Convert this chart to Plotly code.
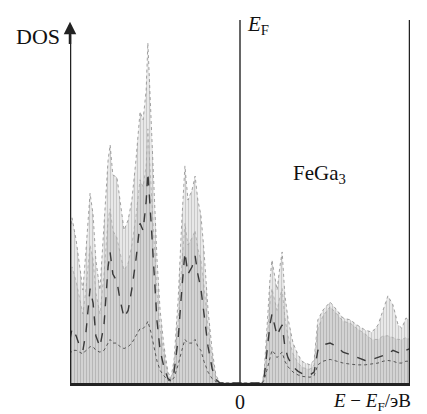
import plotly.graph_objects as go

# Energy grid (E - E_F, eV-like units)
energy = [-5.0,-4.94,-4.82,-4.71,-4.62,-4.53,-4.41,-4.32,-4.24,-4.12,
          -4.0,-3.88,-3.82,-3.74,-3.62,-3.53,-3.41,-3.29,-3.18,-3.06,
          -2.94,-2.85,-2.76,-2.71,-2.62,-2.53,-2.44,-2.35,-2.24,-2.12,
          -2.03,-1.94,-1.82,-1.71,-1.62,-1.53,-1.41,-1.32,-1.24,-1.15,
          -1.06,-0.94,-0.82,-0.71,-0.59,
          0.65,0.71,0.79,0.88,0.94,1.03,1.09,1.18,1.24,1.32,
          1.41,1.56,1.71,1.85,2.06,2.18,2.29,2.44,2.65,2.85,
          3.03,3.24,3.44,3.68,3.88,4.06,4.21,4.35,4.50,4.65,
          4.76,4.88,5.0]

dos_total = [4.21,4.55,3.94,3.11,2.56,3.66,5.23,4.63,3.39,2.56,
             4.21,6.14,6.56,5.73,5.67,5.04,4.21,4.49,5.04,6.14,
             7.47,7.25,8.07,9.37,7.52,5.59,3.39,2.01,1.05,0.30,
             0.14,0.63,2.29,4.49,5.98,5.04,5.32,5.70,5.04,4.63,
             3.66,2.01,0.91,0.22,0.0,
             0.0,0.30,1.46,2.84,3.39,2.84,2.56,3.25,3.61,2.42,
             1.79,1.10,0.77,0.58,0.50,0.63,1.74,2.01,2.23,2.01,
             1.79,1.74,1.60,1.46,1.40,1.60,2.01,2.40,2.15,1.60,
             1.51,1.79,1.74]

dos_ga = [3.0,3.2,2.8,2.3,1.9,2.6,3.8,3.4,2.5,1.9,
          3.0,4.5,4.8,4.2,4.0,3.6,3.1,3.3,3.8,4.6,
          5.6,5.4,6.0,7.0,5.6,4.1,2.5,1.5,0.8,0.22,
          0.1,0.45,1.7,3.3,4.4,3.8,4.0,4.2,3.7,3.4,
          2.7,1.5,0.65,0.15,0.0,
          0.0,0.22,1.1,2.2,2.6,2.2,2.0,2.4,2.6,1.8,
          1.3,0.8,0.55,0.42,0.38,0.5,1.5,1.85,2.1,1.9,
          1.7,1.65,1.5,1.35,1.2,1.2,1.3,1.3,1.25,1.2,
          1.2,1.25,1.2]

dos_fe = [1.2,1.5,1.3,1.0,0.9,1.4,2.6,2.2,1.3,1.0,
          1.6,3.2,3.6,3.0,2.8,2.3,1.8,2.0,2.6,3.4,
          4.4,4.2,5.0,5.8,4.5,3.0,1.7,0.9,0.45,0.12,
          0.06,0.3,1.2,2.6,3.6,3.0,3.2,3.5,3.0,2.6,
          1.9,1.0,0.4,0.1,0.0,
          0.0,0.15,0.8,1.6,1.9,1.5,1.3,1.5,1.6,1.0,
          0.7,0.45,0.32,0.25,0.22,0.3,0.9,1.05,1.1,1.0,
          0.85,0.78,0.7,0.62,0.65,0.7,0.75,0.8,0.9,0.85,
          0.8,0.9,0.95]

dos_s = [0.8,0.9,0.9,0.85,0.8,0.9,1.0,1.0,0.9,0.85,
         0.9,1.1,1.2,1.1,1.1,1.0,0.95,1.0,1.1,1.3,
         1.5,1.5,1.6,1.7,1.4,1.0,0.6,0.35,0.2,0.08,
         0.05,0.15,0.5,0.9,1.2,1.1,1.1,1.2,1.0,0.9,
         0.6,0.3,0.12,0.04,0.0,
         0.0,0.08,0.35,0.7,0.9,0.8,0.7,0.8,0.85,0.6,
         0.45,0.3,0.22,0.18,0.16,0.2,0.5,0.6,0.65,0.6,
         0.55,0.52,0.5,0.5,0.52,0.55,0.6,0.62,0.6,0.55,
         0.55,0.6,0.6]

fig = go.Figure()
fig.add_trace(go.Scatter(
    x=energy, y=dos_total, mode="lines", fill="tozeroy",
    line=dict(color="#8c8c8c", width=0.8, dash="dot"),
    fillpattern=dict(shape="|", fgcolor="#a9a9a9", bgcolor="#e8e8e8", size=3, solidity=0.35),
    showlegend=False, hoverinfo="skip"))
fig.add_trace(go.Scatter(
    x=energy, y=dos_ga, mode="lines", fill="tozeroy",
    line=dict(color="#9a9a9a", width=0.6, dash="dot"),
    fillpattern=dict(shape="|", fgcolor="#979797", bgcolor="#d6d6d6", size=3, solidity=0.4),
    showlegend=False, hoverinfo="skip"))
fig.add_trace(go.Scatter(
    x=energy, y=dos_fe, mode="lines",
    line=dict(color="#3a3a3a", width=1.4, dash="dash"),
    showlegend=False, hoverinfo="skip"))
fig.add_trace(go.Scatter(
    x=energy, y=dos_s, mode="lines",
    line=dict(color="#555555", width=1.0, dash="dot"),
    showlegend=False, hoverinfo="skip"))

serif = "Liberation Serif, Times New Roman, serif"

fig.update_layout(
    width=427, height=414,
    margin=dict(l=70, r=17, t=20, b=31),
    paper_bgcolor="white", plot_bgcolor="white",
    xaxis=dict(range=[-5, 5], showgrid=False, zeroline=False, showticklabels=False,
               ticks="", showline=True, linecolor="#222", linewidth=2.5),
    yaxis=dict(range=[0, 10], showgrid=False, zeroline=False, showticklabels=False,
               ticks="", showline=False),
    shapes=[
        dict(type="line", xref="x", yref="y", x0=-5, x1=-5, y0=0, y1=9.6,
             line=dict(color="#222", width=2.5)),
        dict(type="line", xref="x", yref="y", x0=0, x1=0, y0=0, y1=10,
             line=dict(color="#333", width=1.5)),
        dict(type="line", xref="x", yref="y", x0=5, x1=5, y0=0, y1=10,
             line=dict(color="#222", width=2.5)),
    ],
    annotations=[
        dict(x=-5, y=9.95, ax=-5, ay=9.3, xref="x", yref="y", axref="x", ayref="y",
             showarrow=True, arrowhead=2, arrowsize=1, arrowwidth=2.5, arrowcolor="#222", text=""),
        dict(x=-5, y=9.55, xref="x", yref="y", xanchor="right", yanchor="middle", xshift=-8,
             text="DOS", showarrow=False, font=dict(family=serif, size=22, color="#111")),
        dict(x=0, y=9.85, xref="x", yref="y", xanchor="left", yanchor="middle", xshift=5,
             text="<i>E</i><sub>F</sub>", showarrow=False, font=dict(family=serif, size=21, color="#111")),
        dict(x=2.35, y=5.75, xref="x", yref="y", xanchor="center", yanchor="middle",
             text="FeGa<sub>3</sub>", showarrow=False, font=dict(family=serif, size=21, color="#111")),
        dict(x=0, y=0, xref="x", yref="y", xanchor="center", yanchor="top", yshift=-6,
             text="0", showarrow=False, font=dict(family=serif, size=20, color="#111")),
        dict(x=1.01, y=0, xref="paper", yref="paper", xanchor="right", yanchor="top", yshift=-5,
             text="<i>E</i> − <i>E</i><sub>F</sub>/эВ", showarrow=False,
             font=dict(family=serif, size=19, color="#111")),
    ],
)

fig.write_html("out.html", config={"displayModeBar": False},
               post_script="document.body.style.margin='0px';")
